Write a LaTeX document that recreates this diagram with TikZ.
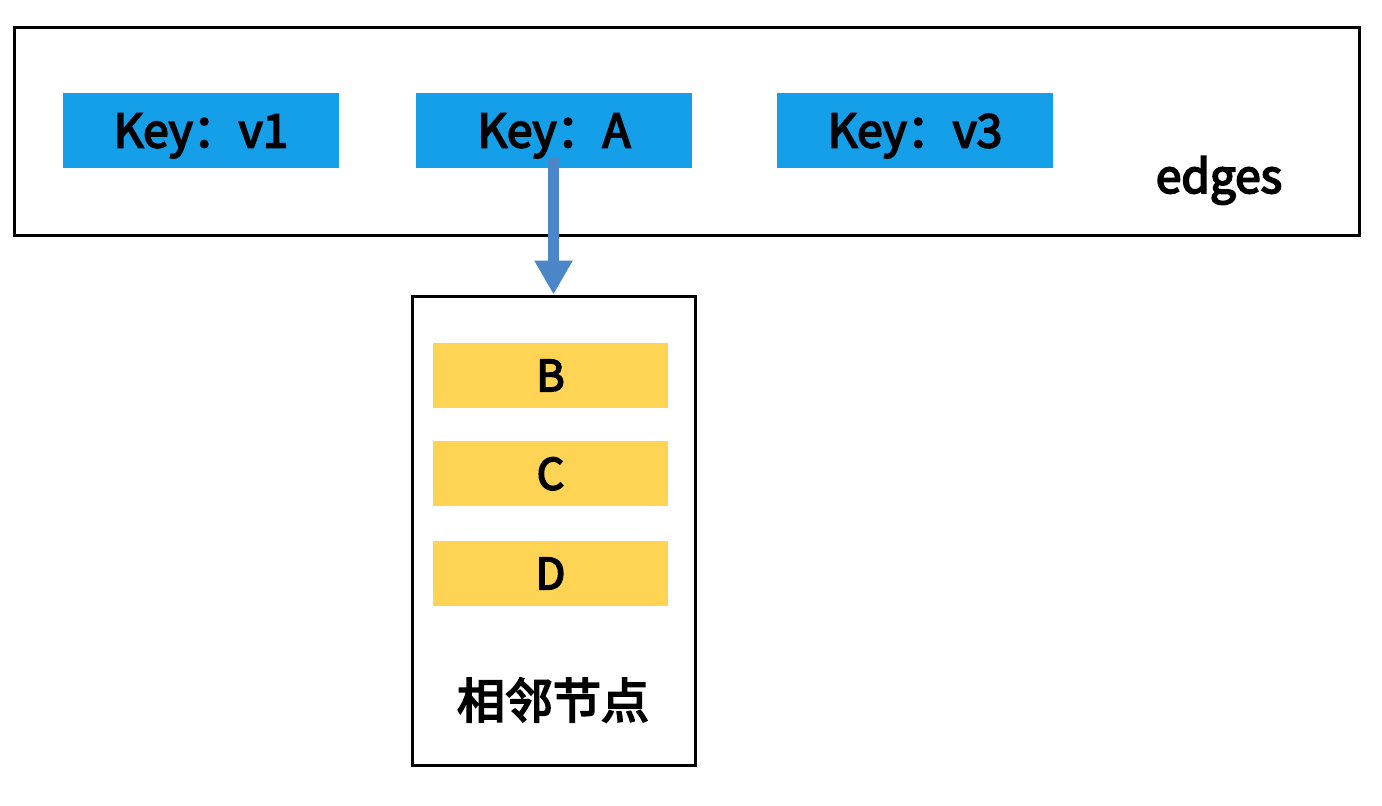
\documentclass[tikz,border=0pt]{standalone}
\usepackage{fontspec}
\setmainfont{Noto Sans CJK SC}
\newfontfamily\medfont{Noto Sans CJK SC}[FakeBold=4]
\usetikzlibrary{arrows.meta}
\definecolor{keyblue}{HTML}{169FE9}
\definecolor{nbyellow}{HTML}{FFD454}
\definecolor{arrowblue}{HTML}{4A86C8}
\begin{document}
\begin{tikzpicture}[x=1pt,y=-1pt,
  frame/.style={draw=black,line width=3pt,fill=white,inner sep=0pt},
  keybox/.style={fill=keyblue,minimum width=276pt,minimum height=75pt,inner sep=0pt,text depth=0pt,font=\fontsize{46}{50}\selectfont\medfont},
  nbbox/.style={fill=nbyellow,minimum width=235pt,minimum height=65pt,inner sep=0pt,text depth=0pt,font=\fontsize{43}{48}\selectfont\medfont},
  label/.style={inner sep=0pt},
  bigarrow/.style={draw=arrowblue,line width=11pt,-{Triangle[width=36pt,length=34pt]}}]
\useasboundingbox (0,0) rectangle (1382,806);
\node[frame,minimum width=1345pt,minimum height=208pt] (edgesbox) at (686.5,131) {};
\node[frame,minimum width=283pt,minimum height=469pt] (nbframe) at (553.5,530.5) {};
\node[keybox] (v1) at (201,130.5) {Key：v1};
\node[keybox] (a) at (554,130.5) {Key：A};
\node[keybox] (v3) at (915,130.5) {Key：v3};
\node[label,anchor=base,font=\fontsize{46}{50}\selectfont\medfont] (edges) at (1219,193) {edges};
\node[nbbox] (b) at (550.5,375.5) {B};
\node[nbbox] (c) at (550.5,473.5) {C};
\node[nbbox] (d) at (550.5,573.5) {D};
\node[label,font=\fontsize{48}{54}\selectfont\medfont] (nblabel) at (553,700) {相邻节点};
\coordinate (astart) at (553.5,157);
\draw[bigarrow] (astart) -- (nbframe.north);
\end{tikzpicture}
\end{document}
